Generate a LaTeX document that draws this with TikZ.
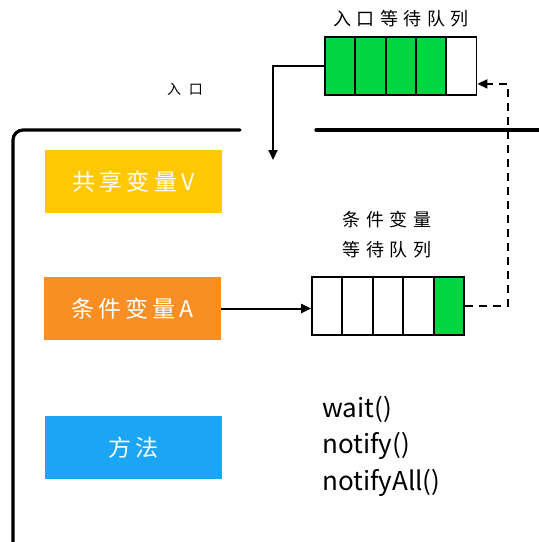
\documentclass[tikz,border=0pt]{standalone}
\usepackage{fontspec}
\setmainfont{Noto Sans CJK SC}
\newfontfamily\boxfont[LetterSpace=18]{Noto Sans CJK SC}
\newfontfamily\labelfont[LetterSpace=30]{Noto Sans CJK SC}
\newfontfamily\entryfont[LetterSpace=55]{Noto Sans CJK SC}
\usetikzlibrary{arrows.meta,calc}

\definecolor{sharedyellow}{RGB}{255,200,0}
\definecolor{condorange}{RGB}{249,142,36}
\definecolor{methodblue}{RGB}{26,165,245}
\definecolor{queuegreen}{RGB}{0,214,64}

\tikzset{
  frame/.style={line width=3.2pt, line cap=round},
  membox/.style={minimum width=177pt, minimum height=63pt, inner sep=0pt,
    text=white, font=\boxfont\fontsize{23}{26}\selectfont},
  cellbox/.style={draw=black, line width=1.8pt, minimum width=30.3pt,
    minimum height=58pt, inner sep=0pt, fill=white},
  fullcell/.style={cellbox, fill=queuegreen},
  link/.style={line width=2pt, -{Triangle[length=10pt,width=9pt]}},
  backlink/.style={link, dash pattern=on 8pt off 6pt},
  caption/.style={font=\labelfont\fontsize{18}{30}\selectfont, align=center, inner sep=0pt}
}

\begin{document}
\begin{tikzpicture}[x=1pt,y=-1pt]
\useasboundingbox (0,0) rectangle (539,542);
\clip (0,0) rectangle (539,542);

% monitor outline with an opening for the entry
\draw[frame, rounded corners=10pt] (240,130) -- (13,130) -- (13,560);
\draw[frame] (316,130) -- (560,130);

% members of the monitor
\node[membox, fill=sharedyellow] (sharedV) at (133.5,181.5) {共享变量V};
\node[membox, fill=condorange] (condA) at (132.5,308.5) {条件变量A};
\node[membox, fill=methodblue] (methods) at (133.5,447.5) {方法};

% entry wait queue
\foreach \i/\st in {1/fullcell,2/fullcell,3/fullcell,4/fullcell,5/cellbox}
  \node[\st] (t\i) at ({325+30.3*(\i-0.5)},66) {};
\node[caption] (entryqueue) at (401,19) {入口等待队列};

% condition variable wait queue
\foreach \i/\st in {1/cellbox,2/cellbox,3/cellbox,4/cellbox,5/fullcell}
  \node[\st] (c\i) at ({312+30.4*(\i-0.5)},306) {};
\node[caption] (condqueue) at (387,235) {条件变量\\等待队列};

% entry label
\node[font=\entryfont\fontsize{14}{16}\selectfont, inner sep=0pt] (entry) at (185,89) {入口};

% method names
\node[anchor=north west, align=left, inner sep=0pt,
  font=\fontsize{26}{36.5}\selectfont] (ops) at (322,396) {wait()\\notify()\\notifyAll()};

% connectors
\coordinate (entryTip) at (273,160);
\draw[link] (t1.west) -| (entryTip);
\draw[link] (condA.east) -- (condA.east -| c1.west);
\coordinate (returnX) at (508,0);
\coordinate (returnIn) at ($(t5.south east)+(0,-12)$);
\draw[backlink] (c5.east) -- (c5.east -| returnX) -- (returnIn -| returnX) -- (returnIn);
\end{tikzpicture}
\end{document}
